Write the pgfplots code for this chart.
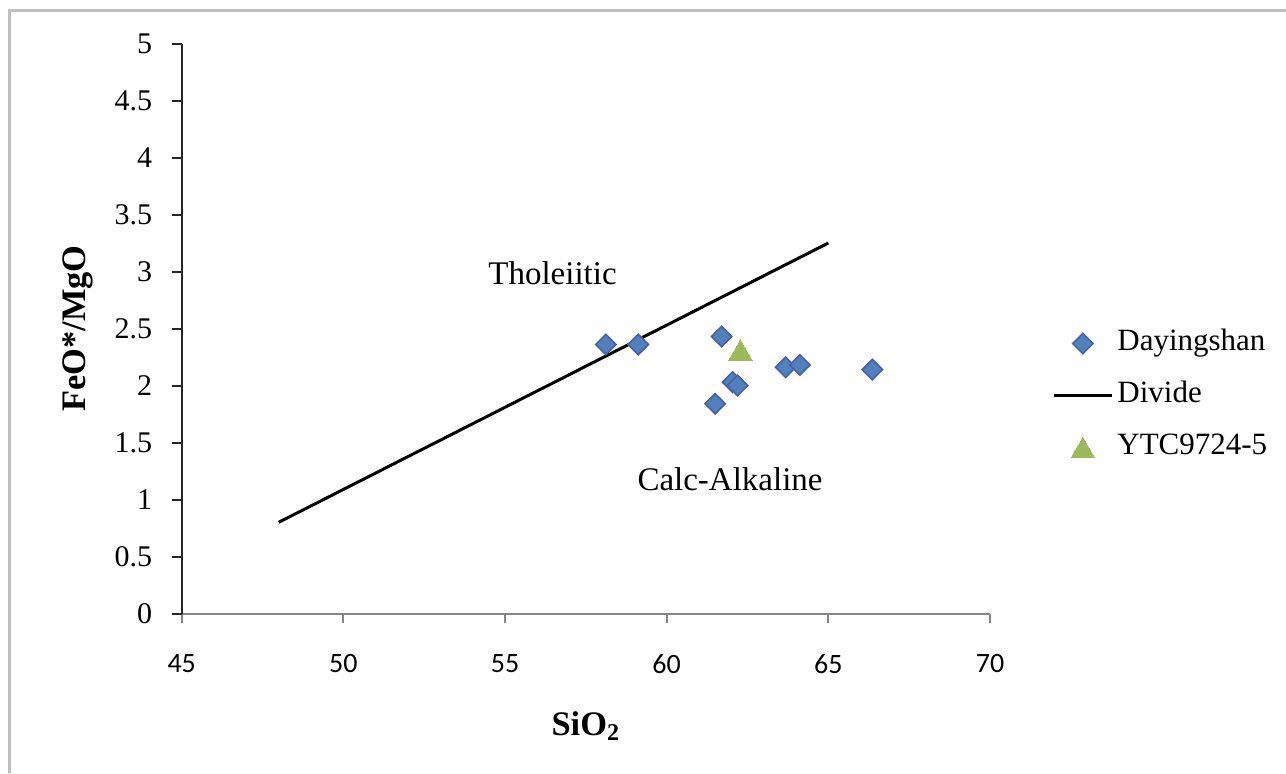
\documentclass[border=0pt]{standalone}
\usepackage{fontspec}
\setmainfont{Liberation Serif}
\newfontfamily\calibri{Carlito}
\usepackage{pgfplots}
\pgfplotsset{compat=1.18}
\definecolor{dblue}{HTML}{4F81BD}
\definecolor{dbluedraw}{HTML}{4A5FA5}
\definecolor{dgreen}{HTML}{9BBB59}
\definecolor{axgray}{HTML}{868686}
\definecolor{framegray}{HTML}{BFBFBF}
\pgfplotsset{
  mymarklegend/.style={legend image code/.code={\draw[mark repeat=2,mark phase=2,##1] plot coordinates {(0pt,0pt) (14.5pt,0pt) (29pt,0pt)};}},
  mylinelegend/.style={legend image code/.code={\draw[##1] (0pt,0pt) -- (29pt,0pt);}},
}
\begin{document}
\begin{tikzpicture}
\useasboundingbox (0,0) rectangle (643pt,386.5pt);
\fill[white] (0,0) rectangle (643pt,386.5pt);
\draw[framegray, line width=1.5pt] (4.5pt,0) -- (4.5pt,381pt) -- (643pt,381pt);
\begin{axis}[
  at={(90.85pt,79.75pt)}, anchor=south west,
  scale only axis, width=404.15pt, height=285pt,
  xmin=45, xmax=70, ymin=0, ymax=5,
  xtick={45,50,55,60,65,70},
  ytick={0,0.5,1,1.5,2,2.5,3,3.5,4,4.5,5},
  axis x line*=bottom, axis y line*=left,
  x axis line style={axgray, line width=1pt},
  y axis line style={black!85, line width=1pt},
  tick align=outside, major tick length=4.8pt,
  xtick style={axgray, line width=1pt},
  ytick style={black!85, line width=1pt},
  /pgf/number format/assume math mode=true,
  xticklabel style={font=\calibri\fontsize{14}{16}\selectfont, yshift=-12pt},
  yticklabel style={font=\fontsize{15}{17}\selectfont, xshift=-6.5pt},
  xlabel={\textbf{SiO\textsubscript{2}}},
  ylabel={\textbf{FeO*/MgO}},
  xlabel style={font=\fontsize{17.2}{19}\selectfont, at={(axis description cs:0.5,-0.2132)}, anchor=base},
  ylabel style={font=\fontsize{17.2}{19}\selectfont, at={(axis description cs:-0.128,0.5)}, anchor=center},
  clip=false,
  legend style={draw=none, fill=none, at={(axis description cs:1.0767,0.3825)}, anchor=west,
    font=\fontsize{15.5}{17}\selectfont, row sep=7.5pt, inner sep=0pt,
    nodes={inner sep=2pt, text height=11pt, text depth=3.5pt}},
  legend cell align=left,
]
\addplot[only marks, mark=square*, mark size=3.6pt,
  mark options={rotate=45, fill=dblue, draw=dbluedraw, line width=0.8pt}, mymarklegend]
  coordinates {(58.12,2.36) (59.12,2.36) (61.70,2.43) (62.04,2.03) (62.19,2.00) (61.50,1.84) (63.68,2.16) (64.12,2.18) (66.36,2.14)};
\addlegendentry{Dayingshan}
\addplot[black, line width=1.5pt, no markers, mylinelegend]
  coordinates {(48,0.8) (65,3.25)};
\addlegendentry{Divide}
\addplot[only marks, mark=triangle*, mark size=6.7pt,
  mark options={fill=dgreen, draw=dgreen, line width=0pt, yshift=-1.6pt}, mymarklegend]
  coordinates {(62.28,2.31)};
\addlegendentry{YTC9724-5}
\node[font=\fontsize{16.5}{18}\selectfont, anchor=base] at (axis cs:56.47,2.882) {Tholeiitic};
\node[font=\fontsize{16.5}{18}\selectfont, anchor=base] at (axis cs:61.96,1.077) {Calc-Alkaline};
\end{axis}
\end{tikzpicture}
\end{document}
